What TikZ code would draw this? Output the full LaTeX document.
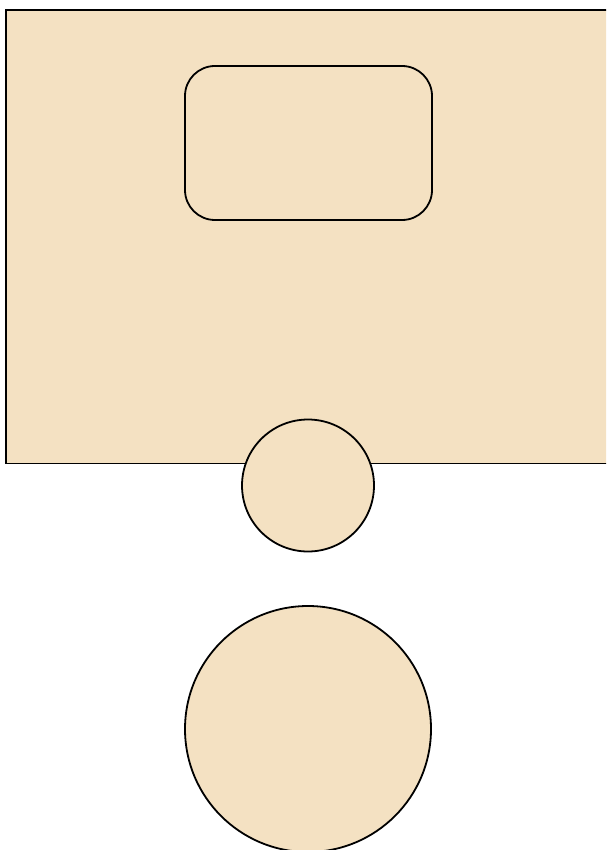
\documentclass[tikz,border=0pt]{standalone}
\usepackage{tikz}
\usetikzlibrary{shapes,positioning,calc}
\definecolor{wheatfill}{RGB}{244,225,194}
\tikzstyle{panel} = [draw, rectangle, fill=wheatfill, line width=1.8pt, inner sep=0pt]
\tikzstyle{screen} = [draw, rectangle, fill=wheatfill, line width=1.8pt, inner sep=0pt, rounded corners=30pt]
\tikzstyle{knob} = [draw, circle, fill=wheatfill, line width=1.8pt, inner sep=0pt]

\begin{document}
\begin{tikzpicture}[x=1pt, y=-1pt]
    % Frame
    \useasboundingbox (0,0) rectangle (606,850);
    \clip (0,0) rectangle (606,850);
    % Nodes
    \node [panel, anchor=north west, minimum width=630pt, minimum height=453pt] (frame) at (5,9.5) {};
    \node [screen, minimum width=247pt, minimum height=154pt] (display) at (308.5,143) {};
    \node [knob, minimum size=132pt] (dial) at (308,485.5) {};
    \node [knob, minimum size=246pt] (base) at (308,729) {};
\end{tikzpicture}
\end{document}
